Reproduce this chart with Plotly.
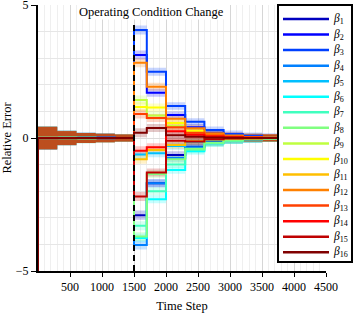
import plotly.graph_objects as go

# ---------------- data ----------------
STEP_STARTS = [0, 300, 600, 900, 1200, 1500, 1700, 2000, 2300, 2600, 2900, 3200, 3500, 3800, 4100]
STEP_END = 4500
CHANGE_STEP = 1500
CHANGE_LABEL = "Operating Condition Change"
BAND_HALF = [0.42, 0.26, 0.19, 0.16, 0.13, 0.17, 0.15, 0.14, 0.13, 0.13, 0.13, 0.13, 0.13, 0.13, 0.13]

beta1 = [0.01, 0.01, 0.01, 0.00, 0.00, -2.90, -1.70, -0.64, -0.33, -0.15, -0.08, -0.04, -0.02, -0.01, 0.00]
beta2 = [-0.02, -0.01, 0.01, 0.01, 0.00, 3.12, 1.70, 0.86, 0.40, 0.20, 0.10, 0.05, 0.03, 0.01, 0.00]
beta3 = [0.02, 0.02, 0.01, 0.01, 0.00, 4.06, 2.49, 1.20, 0.61, 0.30, 0.15, 0.08, 0.04, 0.02, 0.01]
beta4 = [-0.03, -0.02, -0.01, -0.01, 0.00, -4.02, -1.70, -0.75, -0.35, -0.18, -0.09, -0.05, -0.02, -0.01, 0.00]
beta5 = [0.02, 0.02, 0.01, 0.01, 0.00, -0.62, -0.57, -0.30, -0.15, -0.08, -0.04, -0.02, -0.01, 0.00, 0.00]
beta6 = [-0.02, -0.01, -0.01, 0.00, 0.00, -3.76, -2.30, -1.20, -0.50, -0.20, -0.10, -0.05, -0.02, -0.01, 0.00]
beta7 = [0.01, 0.01, 0.01, 0.00, 0.00, -3.30, -2.00, -1.00, -0.45, -0.20, -0.10, -0.05, -0.02, -0.01, 0.00]
beta8 = [-0.01, -0.01, 0.00, 0.00, 0.00, -3.70, -1.35, -0.80, -0.40, -0.18, -0.09, -0.04, -0.02, -0.01, 0.00]
beta9 = [0.01, 0.01, 0.01, 0.00, 0.00, 1.43, 0.85, 0.45, 0.22, 0.10, 0.05, 0.03, 0.01, 0.00, 0.00]
beta10 = [-0.01, -0.01, -0.01, 0.00, 0.00, 1.17, 1.15, 0.56, 0.27, 0.12, 0.06, 0.03, 0.01, 0.00, 0.00]
beta11 = [0.01, 0.01, 0.00, 0.00, 0.00, -0.80, -0.45, -0.26, -0.12, -0.06, -0.03, -0.02, -0.01, 0.00, 0.00]
beta12 = [-0.01, -0.01, 0.00, 0.00, 0.00, 2.83, 1.93, 0.72, 0.37, 0.18, 0.09, 0.04, 0.02, 0.01, 0.00]
beta13 = [0.01, 0.00, 0.00, 0.00, 0.00, 0.90, 0.75, 0.40, 0.20, 0.10, 0.05, 0.02, 0.01, 0.00, 0.00]
beta14 = [-0.01, 0.00, 0.00, 0.00, 0.00, -0.48, -0.35, 0.25, 0.12, 0.06, 0.03, 0.01, 0.00, 0.00, 0.00]
beta15 = [0.00, 0.00, 0.00, 0.00, 0.00, -2.20, -1.30, -0.10, -0.13, -0.05, -0.02, -0.01, 0.00, 0.00, 0.00]
beta16 = [-0.01, -0.01, 0.00, 0.00, 0.00, 0.20, 0.38, 0.10, 0.05, 0.02, 0.01, 0.00, 0.00, 0.00, 0.00]
BETA16_INITIAL = -8.0

SERIES = [beta1, beta2, beta3, beta4, beta5, beta6, beta7, beta8,
          beta9, beta10, beta11, beta12, beta13, beta14, beta15, beta16]
NAMES = ["β%d" % (i + 1) for i in range(16)]
COLORS = ["#0000bf", "#0000ff", "#0040ff", "#0080ff", "#00bfff", "#00ffff", "#40ffbf", "#80ff80",
          "#bfff40", "#ffff00", "#ffbf00", "#ff8000", "#ff4000", "#ff0000", "#bf0000", "#800000"]

X_TICKS = [500, 1000, 1500, 2000, 2500, 3000, 3500, 4000, 4500]
Y_TICKS = [-5, 0, 5]
X_RANGE = [0, 4500]
Y_RANGE = [-5, 5]
DASH_TOP = 4.3

FONT = "Liberation Serif, Times New Roman, serif"


def rgba(hexc, a):
    h = hexc.lstrip("#")
    return "rgba(%d,%d,%d,%.2f)" % (int(h[0:2], 16), int(h[2:4], 16), int(h[4:6], 16), a)


fig = go.Figure()
xs = STEP_STARTS + [STEP_END]

# confidence bands
for vals, col in zip(SERIES, COLORS):
    ys = vals + [vals[-1]]
    bh = BAND_HALF + [BAND_HALF[-1]]
    up = [y + h for y, h in zip(ys, bh)]
    lo = [y - h for y, h in zip(ys, bh)]
    fig.add_trace(go.Scatter(x=xs, y=up, mode="lines", line=dict(width=0, shape="hv"),
                             showlegend=False, hoverinfo="skip"))
    fig.add_trace(go.Scatter(x=xs, y=lo, mode="lines", line=dict(width=0, shape="hv"),
                             fill="tonexty", fillcolor=rgba(col, 0.22),
                             showlegend=False, hoverinfo="skip"))

# step lines
for k, (vals, col, nm) in enumerate(zip(SERIES, COLORS, NAMES)):
    ys = vals + [vals[-1]]
    lx = list(xs)
    if k == 15:
        lx = [0] + lx
        ys = [BETA16_INITIAL] + ys
    fig.add_trace(go.Scatter(x=lx, y=ys, mode="lines", name=nm,
                             line=dict(color=col, width=2, shape="hv"), showlegend=False))

# operating condition change line
fig.add_trace(go.Scatter(x=[CHANGE_STEP, CHANGE_STEP], y=[Y_RANGE[0], DASH_TOP], mode="lines",
                         line=dict(color="black", width=2, dash="6px,4px"), showlegend=False,
                         hoverinfo="skip"))

# ---------------- manual legend (paper coords) ----------------
L, R, T, B = 38, 30, 5, 42
W, H = 356, 313
pw, ph = W - L - R, H - T - B


def px2x(px):
    return (px - L) / pw


def py2y(py):
    return (H - B - py) / ph


shapes = [dict(type="rect", xref="paper", yref="paper",
               x0=px2x(278), x1=px2x(352), y0=py2y(262), y1=py2y(5),
               line=dict(color="black", width=2), fillcolor="white", layer="above")]
annotations = []
for i, (nm, col) in enumerate(zip(NAMES, COLORS)):
    yy = py2y(19 + 15.55 * i)
    shapes.append(dict(type="line", xref="paper", yref="paper",
                       x0=px2x(283), x1=px2x(329), y0=yy, y1=yy,
                       line=dict(color=col, width=2.5), layer="above"))
    annotations.append(dict(xref="paper", yref="paper", x=px2x(331), y=yy,
                            xanchor="left", yanchor="middle", showarrow=False,
                            text="<i>β</i><sub>%d</sub>" % (i + 1),
                            font=dict(family=FONT, size=11.5, color="black")))

annotations.append(dict(x=1770, y=4.73, xref="x", yref="y", text=CHANGE_LABEL, showarrow=False,
                        font=dict(family=FONT, size=12.5, color="black"), bgcolor="white",
                        xanchor="center", yanchor="middle", borderpad=0))

fig.update_layout(
    width=W, height=H,
    margin=dict(l=L, r=R, t=T, b=B, autoexpand=False),
    plot_bgcolor="white", paper_bgcolor="white",
    font=dict(family=FONT, size=12, color="black"),
    shapes=shapes, annotations=annotations,
    showlegend=False,
    xaxis=dict(range=X_RANGE, tickvals=X_TICKS, showgrid=True, gridcolor="#d6d6d6", gridwidth=1,
               minor=dict(dtick=100, showgrid=True, gridcolor="#efefef", gridwidth=1),
               showline=True, linecolor="black", linewidth=2, ticks="outside", ticklen=4,
               tickcolor="black", zeroline=False, automargin=False, ticklabeloverflow="allow",
               title=dict(text="Time Step", standoff=8, font=dict(family=FONT, size=12.5))),
    yaxis=dict(range=Y_RANGE, tickvals=Y_TICKS, showgrid=True, gridcolor="#dcdcdc", gridwidth=1,
               minor=dict(dtick=1, showgrid=True, gridcolor="#e6e6e6", gridwidth=1),
               showline=True, linecolor="black", linewidth=2, ticks="outside", ticklen=5,
               tickcolor="black", zeroline=False, automargin=False, ticklabeloverflow="allow",
               title=dict(text="Relative Error", standoff=2, font=dict(family=FONT, size=12.5))),
)

fig.write_html("out.html", config={"displayModeBar": False},
               post_script="document.body.style.margin='0';document.body.style.padding='0';")
